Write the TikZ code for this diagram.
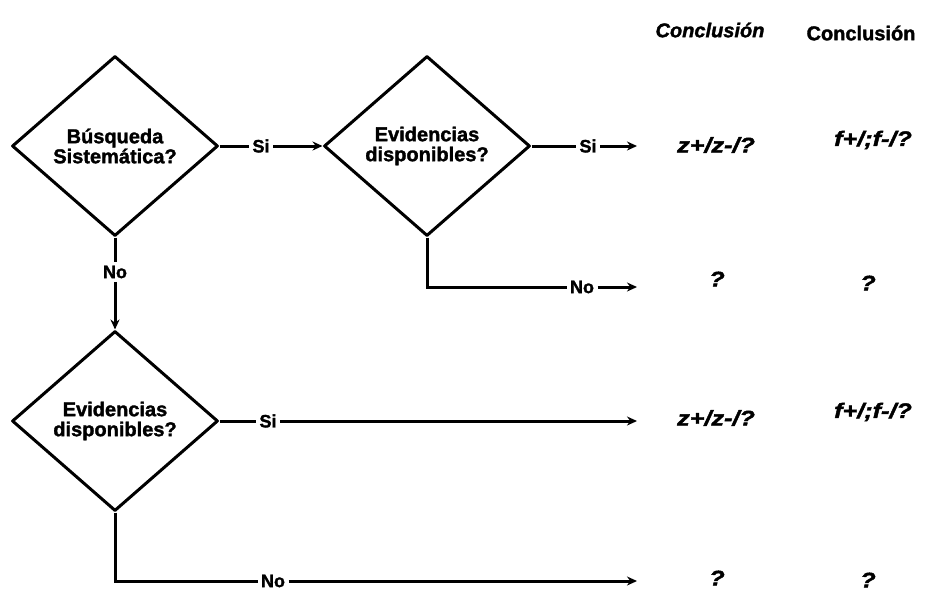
\documentclass[tikz,border=0pt]{standalone}
\usepackage{fontspec}
\setmainfont{Liberation Sans}
\newfontfamily\heavy{Liberation Sans}[UprightFont=* Bold,ItalicFont=* Bold Italic,
  UprightFeatures={FakeBold=1.6},ItalicFeatures={FakeBold=1.6}]
\newfontfamily\wideheavy{Liberation Sans}[UprightFont=* Bold,ItalicFont=* Bold Italic,
  UprightFeatures={FakeBold=2},ItalicFeatures={FakeBold=2},FakeStretch=1.2]
\usetikzlibrary{shapes.geometric,arrows.meta}
\begin{document}
\begin{tikzpicture}[x=1pt,y=-1pt,
  line width=3pt,
  decision/.style={diamond,draw,line join=round,inner sep=0pt,
    minimum width=206pt,minimum height=180pt,align=center,
    font=\fontsize{20}{20}\selectfont\heavy},
  lbl/.style={inner sep=2pt,font=\fontsize{18}{18}\selectfont\heavy},
  res/.style={inner sep=0pt,font=\fontsize{21}{21}\selectfont\wideheavy\itshape},
  head/.style={inner sep=0pt,font=\fontsize{20}{20}\selectfont\heavy},
  flow/.style={-{Stealth[length=10pt,width=9pt]}},
]
\useasboundingbox (0,0) rectangle (932,592);

% decision diamonds
\node[decision] (d1) at (115,146) {Búsqueda\\Sistemática?};
\node[decision] (d2) at (427,146) {Evidencias\\disponibles?};
\node[decision] (d3) at (115,421) {Evidencias\\disponibles?};

% column headings
\node[head,font=\fontsize{20}{20}\selectfont\heavy\itshape] (h1) at (710,30) {Conclusión};
\node[head] (h2) at (861,33) {Conclusión};

% branch labels
\node[lbl] (si1) at (261,146) {Si};
\node[lbl] (no1) at (115,272) {No};
\node[lbl] (si2) at (588,146) {Si};
\node[lbl] (no2) at (582,287) {No};
\node[lbl] (si3) at (268,421) {Si};
\node[lbl] (no4) at (273,581) {No};

% arrow end points
\coordinate (e1) at (637,146);
\coordinate (e2) at (637,287);
\coordinate (e3) at (637,421);
\coordinate (e4) at (637,581);

% outcomes
\node[res] (r1a) at (716,145) {z+/z-/?};
\node[res] (r1b) at (873,140) {f+/;f-/?};
\node[res] (r2a) at (717,279) {?};
\node[res] (r2b) at (868,283) {?};
\node[res] (r3a) at (716,418) {z+/z-/?};
\node[res] (r3b) at (873,412) {f+/;f-/?};
\node[res] (r4a) at (717,578) {?};
\node[res] (r4b) at (868,580) {?};

% connectors
\draw (d1.east) -- (si1.west);
\draw[flow] (si1.east) -- (d2.west);
\draw (d1.south) -- (no1.north);
\draw[flow] (no1.south) -- (d3.north);
\draw (d2.east) -- (si2.west);
\draw[flow] (si2.east) -- (e1);
\draw (d2.south) |- (no2.west);
\draw[flow] (no2.east) -- (e2);
\draw (d3.east) -- (si3.west);
\draw[flow] (si3.east) -- (e3);
\draw (d3.south) |- (no4.west);
\draw[flow] (no4.east) -- (e4);
\end{tikzpicture}
\end{document}
